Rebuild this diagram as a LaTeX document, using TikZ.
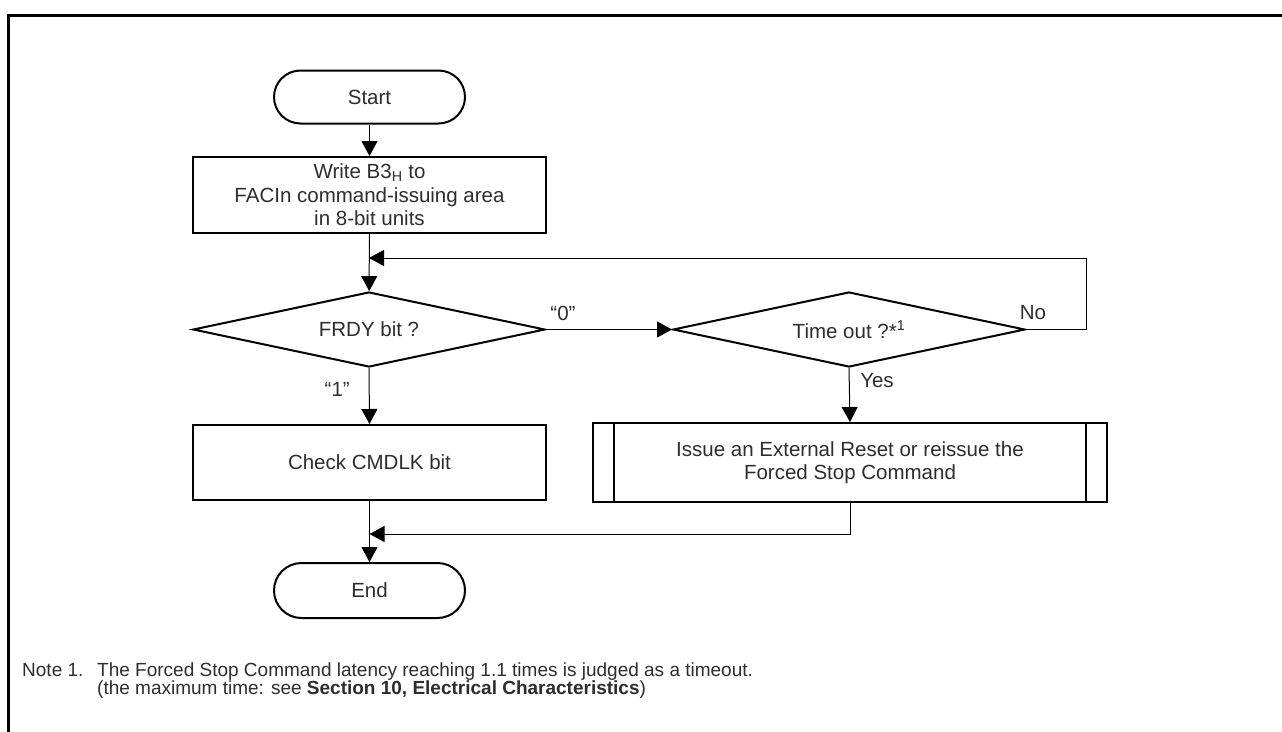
\documentclass[tikz,border=0pt]{standalone}
\usepackage{fontspec}
\setmainfont{Liberation Sans}
\usetikzlibrary{shapes.geometric,shapes.misc,arrows.meta}
\definecolor{txt}{RGB}{45,45,45}
\begin{document}
\begin{tikzpicture}[x=1pt,y=-1pt,
  every node/.style={font=\fontsize{20.5}{23.5}\selectfont, text=txt},
  terminal/.style={draw, line width=2pt, rounded rectangle, minimum width=191pt, minimum height=53pt, inner sep=0pt},
  proc/.style={draw, line width=2pt, rectangle, inner sep=0pt, align=center},
  decision/.style={draw, line width=2pt, diamond, aspect=4.69, minimum width=352pt, minimum height=75pt, inner sep=0pt},
  conn/.style={line width=1pt, -{Triangle[length=15pt,width=16pt]}},
  lbl/.style={inner sep=0pt},
  notetext/.style={inner sep=0pt, anchor=base west, font=\fontsize{19}{22}\selectfont, text=txt}
]
\useasboundingbox (0,0) rectangle (1282,731);
\draw[line width=3pt] (8,735) -- (8,15) -- (1286,15);

\node[terminal] (start) at (369.5,97) {Start};
\node[proc, minimum width=353pt, minimum height=76pt] (write) at (369.5,195)
  {Write B3\textsubscript{H} to\\FACIn command-issuing area\\in 8-bit units};
\node[decision] (frdy) at (369,329.5) {FRDY bit ?};
\node[decision] (tout) at (849,329.5) {Time out ?*\textsuperscript{1}};
\node[proc, minimum width=353pt, minimum height=75pt] (check) at (369.5,462.5) {Check CMDLK bit};
\node[proc, minimum width=514pt, minimum height=79pt] (issue) at (850,462.5)
  {Issue an External Reset or reissue the\\Forced Stop Command};
\draw[line width=2pt] ([xshift=22pt]issue.north west) -- ([xshift=22pt]issue.south west);
\draw[line width=2pt] ([xshift=-22pt]issue.north east) -- ([xshift=-22pt]issue.south east);
\node[terminal, minimum height=55pt] (end) at (369.5,590.5) {End};

\coordinate (loopR) at (1086,258);
\coordinate (merge) at (850,534);

\draw[conn] (start) -- (write);
\draw[conn] (write) -- (frdy);
\draw[conn] (frdy.east) -- (tout.west);
\draw[conn] (tout.east) -| (loopR) -- (frdy.north |- loopR);
\draw[conn] (frdy.south) -- (check.north);
\draw[conn] (tout.south) -- (issue.north);
\draw[conn] (check.south) -- (end.north);
\draw[conn] (issue.south) -- (merge) -- (end.north |- merge);

\node[lbl] (l0) at (563,313) {“0”};
\node[lbl, anchor=east] (l1) at (350,389) {“1”};
\node[lbl] (lno) at (1033,313) {No};
\node[lbl] (lyes) at (877,381) {Yes};

\node[notetext] (n1) at (22,676) {Note 1.};
\node[notetext] (n2) at (97,676) {The Forced Stop Command latency reaching 1.1 times is judged as a timeout.};
\node[notetext] (n3) at (97,694.5) {(the maximum time: see \textbf{Section 10, Electrical Characteristics})};
\end{tikzpicture}
\end{document}
